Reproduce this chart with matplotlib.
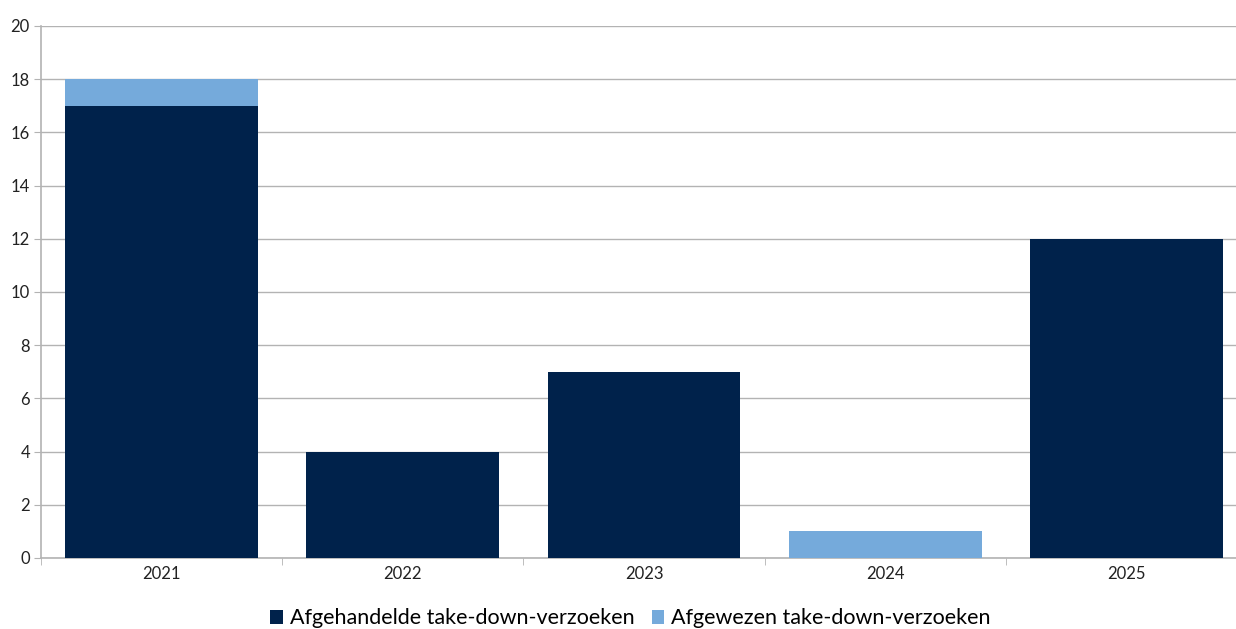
import numpy as np
import matplotlib
matplotlib.use('Agg')
import matplotlib.pyplot as plt
from matplotlib.ticker import FixedLocator

# Data
YEARS = ['2021', '2022', '2023', '2024', '2025']
HANDLED = [17, 4, 7, 0, 12]
REJECTED = [1, 0, 0, 1, 0]

DARK = '#00224b'
LIGHT = '#75aadb'
GRID = '#b3b3b3'

plt.rcParams['font.family'] = ['Lato', 'DejaVu Sans']

fig = plt.figure(figsize=(12.36, 6.29), dpi=100)
# the source chart is clipped on the right, so the axes run past the figure edge
ax = fig.add_axes([0.0332, 0.1129, 0.9757, 0.8458])

x = np.arange(len(YEARS))
ax.bar(x, HANDLED, width=0.8, color=DARK, label='Afgehandelde take-down-verzoeken', zorder=3)
ax.bar(x, REJECTED, width=0.8, bottom=HANDLED, color=LIGHT,
       label='Afgewezen take-down-verzoeken', zorder=3)

ax.set_xlim(-0.5, len(YEARS) - 0.5)
ax.set_ylim(0, 20)
ax.set_yticks(np.arange(0, 21, 2))
ax.set_xticks(x)
ax.set_xticklabels(YEARS)
ax.xaxis.set_minor_locator(FixedLocator(np.arange(-0.5, len(YEARS), 1.0)))

ax.tick_params(axis='x', which='major', length=0, labelsize=12, colors='#222222', pad=6)
ax.tick_params(axis='x', which='minor', length=5, color=GRID, direction='out')
ax.tick_params(axis='y', length=5, color=GRID, labelsize=12, labelcolor='#222222', pad=3)

ax.grid(axis='y', color=GRID, linewidth=1, zorder=0)
for side in ['top', 'right']:
    ax.spines[side].set_visible(False)
for side in ['left', 'bottom']:
    ax.spines[side].set_color(GRID)
    ax.spines[side].set_linewidth(1.2)

fig.legend(loc='lower center', bbox_to_anchor=(0.510, -0.03), ncol=2, frameon=False,
           fontsize=15.5, handlelength=0.6, handleheight=0.6, handletextpad=0.3,
           columnspacing=0.8)

fig.savefig('out.png', dpi=100)
